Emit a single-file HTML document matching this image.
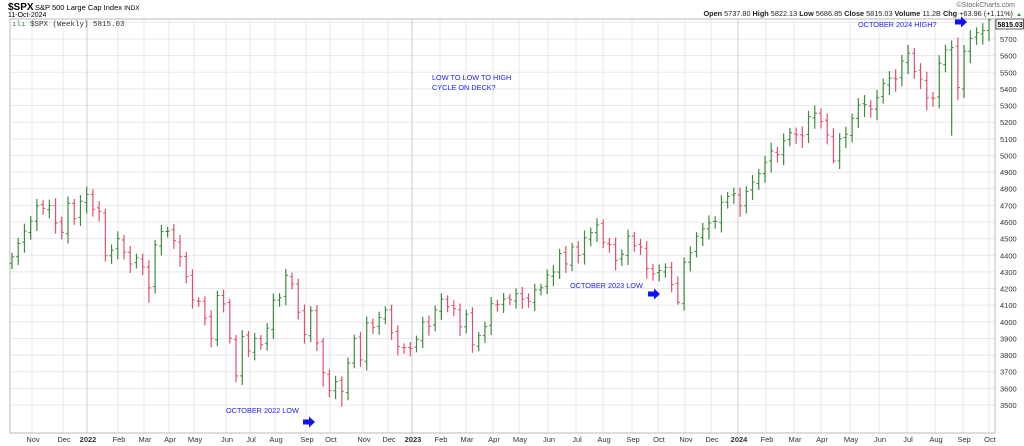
<!DOCTYPE html>
<html><head><meta charset="utf-8"><style>
html,body{margin:0;padding:0;background:#fff;width:1024px;height:446px;overflow:hidden;font-family:"Liberation Sans",Arial,sans-serif}
</style></head><body>
<svg id="s" width="1024" height="446" xmlns="http://www.w3.org/2000/svg" style="position:absolute;left:0;top:0"></svg>
<script>
const S=document.getElementById('s');let h='';
const L=10,R=995,T=19,B=433;
const y=v=>405-(v-3500)*0.16636;
for(let v=3500;v<=5800;v+=100){const yy=y(v);if(yy<T||yy>B)continue;h+=`<line x1="${L}" x2="${R}" y1="${yy}" y2="${yy}" stroke="#e8e8e8" stroke-width="1"/>`;
if(v<5800)h+=`<text x="1000" y="${yy+3}" font-size="7.5" fill="#333">${v}</text>`;}
const months=[[33,'Nov'],[64,'Dec'],[88,'2022'],[119,'Feb'],[145,'Mar'],[170,'Apr'],[195,'May'],[227,'Jun'],[251,'Jul'],[276,'Aug'],[307,'Sep'],[331,'Oct'],[364,'Nov'],[389,'Dec'],[413,'2023'],[441,'Feb'],[467,'Mar'],[494,'Apr'],[520,'May'],[549,'Jun'],[577,'Jul'],[604,'Aug'],[633,'Sep'],[659,'Oct'],[686,'Nov'],[712,'Dec'],[739,'2024'],[767,'Feb'],[795,'Mar'],[822,'Apr'],[851,'May'],[880,'Jun'],[908,'Jul'],[936,'Aug'],[964,'Sep'],[990,'Oct']];
for(const[x,m]of months){const yr=/^\d/.test(m);h+=`<line x1="${x-1}" x2="${x-1}" y1="${T}" y2="${B}" stroke="${yr?'#cccccc':'#e8e8e8'}"/>`;
h+=`<text x="${x}" y="442" font-size="7.5" text-anchor="middle" fill="#333" ${yr?'font-weight="bold"':''}>${m}</text>`;}
h+=`<rect x="${L}" y="${T}" width="${R-L}" height="${B-T}" fill="none" stroke="#bbb"/>`;
const C=[4391,4471,4545,4605,4697,4682,4698,4594,4538,4712,4620,4725,4766,4677,4662,4397,4431,4500,4418,4348,4385,4329,4204,4463,4543,4545,4488,4392,4272,4132,4123,4023,3901,4158,4108,3901,3675,3912,3825,3899,3863,3962,4130,4145,4280,4228,4058,3924,4067,3873,3693,3586,3640,3583,3752,3901,3771,3993,3965,4026,4072,3934,3852,3845,3840,3895,3999,3973,4071,4136,4090,4079,3970,4046,3862,3917,3971,4109,4105,4137,4133,4169,4136,4124,4192,4205,4282,4299,4410,4348,4450,4399,4505,4536,4582,4478,4464,4370,4406,4515,4457,4450,4320,4288,4308,4327,4224,4117,4358,4415,4514,4559,4595,4604,4719,4754,4770,4697,4784,4840,4891,4959,5027,5005,5088,5137,5124,5117,5234,5254,5204,5123,4967,5100,5128,5223,5303,5305,5278,5347,5432,5465,5460,5567,5615,5505,5459,5346,5344,5554,5634,5648,5408,5626,5703,5738,5751,5815];
const lows={53:3491,107:4103,151:5119,132:4953,36:3637,22:4115,50:3610};
const n=C.length,dx=(989-12)/(n-1);let prev=4360;
for(let i=0;i<n;i++){const c=C[i];const o=prev+(i%3-1)*8;let r=c*(0.008+0.006*((i*7)%5)/4);
let hi=Math.max(o,c)+r*0.7,lo=Math.min(o,c)-r;if(lows[i])lo=lows[i];if(i==n-1){hi=5822;lo=5687;}
const col=c>=prev?'#3d8c3d':'#e0506e';const x=12+i*dx;
h+=`<line x1="${x}" x2="${x}" y1="${y(hi)}" y2="${y(lo)}" stroke="${col}" stroke-width="1.2"/><line x1="${x-2.2}" x2="${x}" y1="${y(o)}" y2="${y(o)}" stroke="${col}"/><line x1="${x}" x2="${x+2.2}" y1="${y(c)}" y2="${y(c)}" stroke="${col}"/>`;prev=c;}
h+=`<rect x="996" y="19" width="27.5" height="10" fill="#fff" stroke="#333" stroke-width=".8"/><text x="997.5" y="27" font-size="7" font-weight="bold" fill="#000">5815.03</text>`;
const bl='#2020ff';
h+=`<g fill="${bl}" font-size="7.3"><text x="432" y="80">LOW TO LOW TO HIGH</text><text x="432" y="90">CYCLE ON DECK?</text><text x="226" y="413">OCTOBER 2022 LOW</text><text x="570" y="288">OCTOBER 2023 LOW</text><text x="858" y="27">OCTOBER 2024 HIGH?</text></g>`;
const arr=(x,yy)=>`<path d="M${x} ${yy-2.5}h6v-3l6 5.5-6 5.5v-3h-6z" fill="#1010ff"/>`;
h+=arr(303,422)+arr(648,294)+arr(955,22);
h+=`<text x="8" y="10" font-size="10" font-weight="bold">$SPX</text><text x="35" y="10" font-size="7.5">S&amp;P 500 Large Cap Index <tspan font-size="6.5">INDX</tspan></text><text x="8" y="17" font-size="7">11-Oct-2024</text>`;
h+=`<text x="12" y="26" font-size="7.5" font-family="Liberation Mono,monospace" fill="#333"><tspan fill="#3d8c3d">ılı</tspan> $SPX (Weekly) 5815.03</text>`;
h+=`<text x="1015" y="7" font-size="7" text-anchor="end" fill="#666">©StockCharts.com</text>`;
h+=`<text x="1013" y="16" font-size="7.3" text-anchor="end" fill="#222"><tspan font-weight="bold">Open</tspan> 5737.80 <tspan font-weight="bold">High</tspan> 5822.13 <tspan font-weight="bold">Low</tspan> 5686.85 <tspan font-weight="bold">Close</tspan> 5815.03 <tspan font-weight="bold">Volume</tspan> 11.2B <tspan font-weight="bold">Chg</tspan> +63.96 (+1.11%)</text><path d="M1017 16l2-3 2 3z" fill="#3d8c3d"/>`;
S.innerHTML=h;
</script>
</body></html>
